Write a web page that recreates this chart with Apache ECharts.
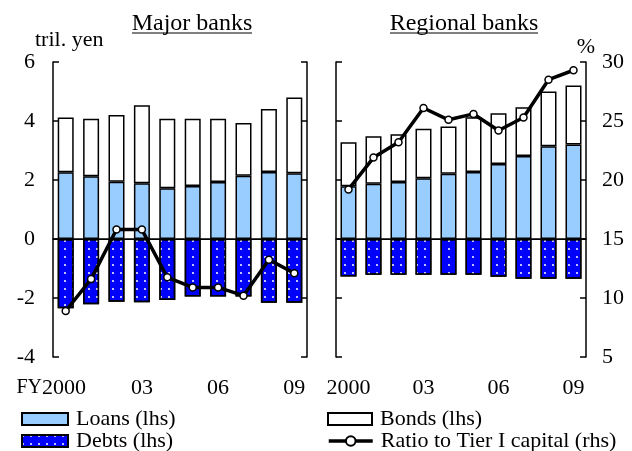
<!DOCTYPE html>
<html>
<head>
<meta charset="utf-8">
<script src="https://cdn.jsdelivr.net/npm/echarts@6/dist/echarts.min.js"></script>
<style>
  html, body { margin: 0; padding: 0; background: #fff; }
  #chart { width: 632px; height: 451px; }
</style>
</head>
<body>
<div id="chart"></div>
<script>
// fiscal years (FY2000 - FY2009)
const years = ['2000', '01', '02', '03', '04', '05', '06', '07', '08', '09']

// major banks, tril. yen (lhs) and % (rhs)
const majorLoans = [2.26, 2.13, 1.94, 1.89, 1.72, 1.80, 1.93, 2.14, 2.27, 2.23]
const majorBonds = [1.86, 1.95, 2.26, 2.64, 2.36, 2.28, 2.15, 1.79, 2.14, 2.57]
const majorDebts = [-2.35, -2.21, -2.13, -2.14, -2.07, -1.95, -1.95, -1.95, -2.16, -2.16]
const majorRatio = [8.9, 11.6, 15.8, 15.8, 11.75, 10.9, 10.9, 10.2, 13.25, 12.1]

// regional banks
const regionalLoans = [1.79, 1.87, 1.93, 2.06, 2.21, 2.27, 2.54, 2.81, 3.14, 3.20]
const regionalBonds = [1.49, 1.61, 1.62, 1.68, 1.60, 1.86, 1.72, 1.66, 1.86, 2.00]
const regionalDebts = [-1.27, -1.21, -1.21, -1.21, -1.21, -1.21, -1.28, -1.35, -1.35, -1.35]
const regionalRatio = [19.2, 21.9, 23.2, 26.1, 25.1, 25.6, 24.2, 25.3, 28.5, 29.3]

const FONT = "'Liberation Serif', 'Times New Roman', serif"
const BLACK = '#000'

const chart = echarts.init(document.getElementById('chart'), null, { renderer: 'canvas' })

const xAxisBase = (gridIndex, first) => ({
  type: 'category',
  gridIndex,
  data: years,
  boundaryGap: true,
  axisLine: { lineStyle: { color: BLACK, width: 1.5 } },
  axisTick: { interval: 2, length: 7, lineStyle: { color: BLACK, width: 1.5 } },
  axisLabel: {
    interval: 2,
    margin: 20,
    color: BLACK,
    fontFamily: FONT,
    fontSize: 22,
    formatter: (v, i) => (first && i === 0 ? '{fy|FY}' + v + '{sp| }' : v),
    rich: {
      fy: { fontFamily: FONT, fontSize: 20, color: BLACK },
      sp: { width: 29, fontSize: 22 }
    }
  }
})

const lhsAxis = (gridIndex, showLabels) => ({
  type: 'value',
  gridIndex,
  position: 'left',
  min: -4,
  max: 6,
  interval: 2,
  name: showLabels ? 'tril. yen' : '',
  nameLocation: 'end',
  nameGap: 15,
  nameTextStyle: {
    color: BLACK, fontFamily: FONT, fontSize: 22,
    align: 'left', verticalAlign: 'middle', padding: [0, 0, 0, -18]
  },
  splitLine: { show: false },
  axisLine: { show: true, onZero: false, lineStyle: { color: BLACK, width: 1.5 } },
  axisTick: { show: true, inside: true, length: 6, lineStyle: { color: BLACK, width: 1.5 } },
  axisLabel: { show: showLabels, margin: 18, color: BLACK, fontFamily: FONT, fontSize: 22 }
})

const rhsAxis = (gridIndex, showLabels) => ({
  type: 'value',
  gridIndex,
  position: 'right',
  min: 5,
  max: 30,
  interval: 5,
  name: showLabels ? '%' : '',
  nameLocation: 'end',
  nameGap: 15,
  nameTextStyle: { color: BLACK, fontFamily: FONT, fontSize: 22, align: 'center', verticalAlign: 'middle' },
  splitLine: { show: false },
  axisLine: { show: true, onZero: false, lineStyle: { color: BLACK, width: 1.5 } },
  axisTick: { show: true, inside: true, length: 6, lineStyle: { color: BLACK, width: 1.5 } },
  axisLabel: { show: showLabels, margin: 16, color: BLACK, fontFamily: FONT, fontSize: 22 }
})

const barBorder = { borderColor: BLACK, borderWidth: 1.5 }

const debtDecal = {
  symbol: 'rect',
  symbolSize: 1,
  color: 'rgba(255,255,255,0.75)',
  dashArrayX: [1.2, 5.8],
  dashArrayY: [1.2, 5.8],
  rotation: 0
}

const panelSeries = (idx, loans, bonds, debts, ratio) => [
  {
    name: 'Loans (lhs)',
    type: 'bar',
    xAxisIndex: idx,
    yAxisIndex: idx * 2,
    stack: 'p' + idx,
    barWidth: 16,
    itemStyle: { color: '#99ccff', ...barBorder },
    data: loans,
    markLine: {
      silent: true,
      symbol: ['none', 'none'],
      label: { show: false },
      lineStyle: { color: BLACK, width: 1, type: 'solid' },
      data: [{ yAxis: 0 }]
    }
  },
  {
    name: 'Bonds (lhs)',
    type: 'bar',
    xAxisIndex: idx,
    yAxisIndex: idx * 2,
    stack: 'p' + idx,
    barWidth: 16,
    itemStyle: { color: '#ffffff', ...barBorder },
    data: bonds
  },
  {
    name: 'Debts (lhs)',
    type: 'bar',
    xAxisIndex: idx,
    yAxisIndex: idx * 2,
    stack: 'p' + idx,
    barWidth: 16,
    itemStyle: { color: '#0000ff', ...barBorder, decal: debtDecal },
    data: debts
  },
  {
    name: 'Ratio to Tier I capital (rhs)',
    type: 'line',
    xAxisIndex: idx,
    yAxisIndex: idx * 2 + 1,
    symbol: 'circle',
    symbolSize: 7,
    lineStyle: { color: BLACK, width: 3.5 },
    itemStyle: { color: '#ffffff', borderColor: BLACK, borderWidth: 1.5 },
    z: 5,
    data: ratio
  }
]

const legendText = { color: BLACK, fontFamily: FONT, fontSize: 22, lineHeight: 22, padding: [0, 0, 0, 3] }

// one legend per entry so the 2x2 block sits where the reference has it
const legendItem = (name, left, top, w, icon) => ({
  left, top, itemWidth: w, itemHeight: 12, padding: 0,
  icon,
  lineStyle: { color: BLACK, width: 3.5 },
  data: [name], textStyle: legendText, selectedMode: false
})

const option = {
  animation: false,
  backgroundColor: '#fff',
  title: [
    { text: 'Major banks', left: 187, top: 7, textAlign: 'center',
      textStyle: { color: BLACK, fontFamily: FONT, fontSize: 24, fontWeight: 'normal' } },
    { text: 'Regional banks', left: 459, top: 7, textAlign: 'center',
      textStyle: { color: BLACK, fontFamily: FONT, fontSize: 24, fontWeight: 'normal' } }
  ],
  graphic: [
    { type: 'line', shape: { x1: 132, y1: 33, x2: 252, y2: 33 }, style: { stroke: BLACK, lineWidth: 1 } },
    { type: 'line', shape: { x1: 390, y1: 33, x2: 538, y2: 33 }, style: { stroke: BLACK, lineWidth: 1 } }
  ],
  legend: [
    legendItem('Loans (lhs)', 21, 408, 46, 'rect'),
    legendItem('Debts (lhs)', 21, 430, 46, 'rect'),
    legendItem('Bonds (lhs)', 327, 408, 44, 'rect'),
    legendItem('Ratio to Tier I capital (rhs)', 327, 430, 44)
  ],
  grid: [
    { left: 53, top: 62, width: 254, height: 295 },
    { left: 336, top: 62, width: 250, height: 295 }
  ],
  xAxis: [xAxisBase(0, true), xAxisBase(1, false)],
  yAxis: [lhsAxis(0, true), rhsAxis(0, false), lhsAxis(1, false), rhsAxis(1, true)],
  series: [
    ...panelSeries(0, majorLoans, majorBonds, majorDebts, majorRatio),
    ...panelSeries(1, regionalLoans, regionalBonds, regionalDebts, regionalRatio)
  ]
}

chart.setOption(option)
window.addEventListener('resize', () => chart.resize())
</script>
</body>
</html>
